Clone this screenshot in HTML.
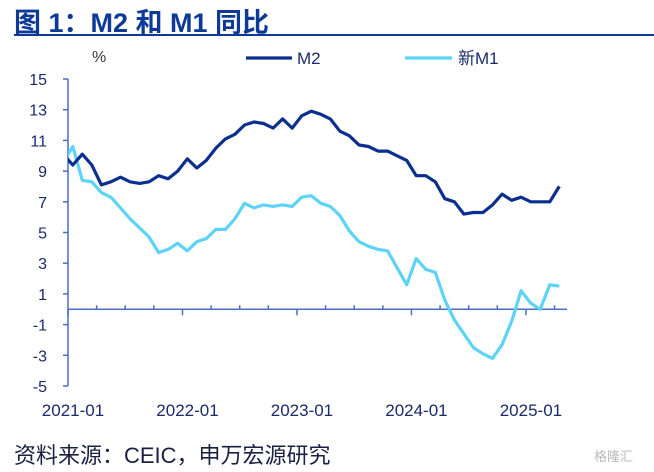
<!DOCTYPE html>
<html><head><meta charset="utf-8"><style>
html,body{margin:0;padding:0;background:#fff;}
body{width:654px;height:472px;overflow:hidden;position:relative;font-family:"Liberation Sans","Noto Sans CJK SC",sans-serif;}
</style></head><body>
<div style="position:absolute;left:14px;top:1px;font-size:27px;font-weight:bold;color:#0c3a96;letter-spacing:0px;white-space:nowrap;">图 1：M2 和 M1 同比</div>
<div style="position:absolute;left:14px;top:34px;width:640px;height:2px;background:#0c3a96;"></div>
<svg id="c" width="654" height="472" style="position:absolute;left:0;top:0"></svg>
<div style="position:absolute;left:14px;top:438px;font-size:22px;color:#1a2040;white-space:nowrap;">资料来源：CEIC，申万宏源研究</div>
<div style="position:absolute;left:594px;top:446px;font-size:13px;color:#bbb;">格隆汇</div>
<script>
const months = [];
for (let i = 0; i < 53; i++) { const y = 2020 + Math.floor((i + 11) / 12); const m = (i + 11) % 12 + 1; months.push(y + '-' + String(m).padStart(2, '0')); }
const m2Values = [10.1,9.4,10.1,9.4,8.1,8.3,8.6,8.3,8.2,8.3,8.7,8.5,9.0,9.8,9.2,9.7,10.5,11.1,11.4,12.0,12.2,12.1,11.8,12.4,11.8,12.6,12.9,12.7,12.4,11.6,11.3,10.7,10.6,10.3,10.3,10.0,9.7,8.7,8.7,8.3,7.2,7.0,6.2,6.3,6.3,6.8,7.5,7.1,7.3,7.0,7.0,7.0,8.0];
const m1Values = [9.6,10.6,8.4,8.3,7.6,7.3,6.6,5.9,5.3,4.7,3.7,3.9,4.3,3.8,4.4,4.6,5.2,5.2,5.9,6.9,6.6,6.8,6.7,6.8,6.7,7.3,7.4,6.9,6.7,6.1,5.1,4.4,4.1,3.9,3.8,2.7,1.6,3.3,2.6,2.4,0.6,-0.7,-1.6,-2.5,-2.9,-3.2,-2.3,-0.8,1.2,0.4,0.0,1.6,1.5];
const yTicks = [15,13,11,9,7,5,3,1,-1,-3,-5];
const xLabels = ['2021-01','2022-01','2023-01','2024-01','2025-01'];

const NS = 'http://www.w3.org/2000/svg';
const svg = document.getElementById('c');
const X0 = 68, MW = 9.54;
const x = i => X0 + (i - 0.5) * MW;
const y = v => 79 + (15 - v) * 15.35;
function el(t, a, p) { const e = document.createElementNS(NS, t); for (const k in a) e.setAttribute(k, a[k]); (p || svg).appendChild(e); return e; }
const AX = '#4a6fc4';
const defs = el('defs', {});
const cp = el('clipPath', { id: 'clip' }, defs);
el('rect', { x: X0, y: 60, width: 520, height: 340 }, cp);

const ya = el('line', { x1: X0, y1: y(15), x2: X0, y2: y(-5), stroke: AX, 'stroke-width': 1.5 });


yTicks.forEach(v => {
  el('line', { x1: X0 - 5, y1: y(v), x2: X0, y2: y(v), stroke: AX, 'stroke-width': 1.5 });
  const t = el('text', { x: 47, y: y(v) + 6, 'text-anchor': 'end', 'font-size': 16, fill: '#1a2a6a' });
  t.textContent = v;
  
  
});
const pct = el('text', { x: 92, y: 62, 'font-size': 16, fill: '#333' });
pct.textContent = '%';



const xa = el('line', { x1: X0, y1: y(0), x2: 567, y2: y(0), stroke: AX, 'stroke-width': 1.5 });


for (let k = 0; k <= 17; k++) {
  const xx = X0 + k * 3 * MW;
  if (xx > 568) break;
  const major = k % 4 === 0;
  el('line', { x1: xx, y1: y(0) - (major ? 0 : 4), x2: xx, y2: y(0) + (major ? 6 : 0), stroke: AX, 'stroke-width': 1.5 });
}
xLabels.forEach((lab, k) => {
  const t = el('text', { x: X0 + k * 12 * MW + 5, y: 416, 'text-anchor': 'middle', 'font-size': 17, fill: '#1a2a6a' });
  t.textContent = lab;
  
  
});

function line(vals, color, name) {
  const d = vals.map((v, i) => (i ? 'L' : 'M') + x(i).toFixed(1) + ',' + y(v).toFixed(1)).join('');
  const p = el('path', { d, fill: 'none', stroke: color, 'stroke-width': 3.2, 'stroke-linejoin': 'round', 'clip-path': 'url(#clip)' });
  
  
}
line(m1Values, '#5dd3f8', 'series-new-m1');
line(m2Values, '#0a2f8f', 'series-m2');

const l1 = el('line', { x1: 246, y1: 58, x2: 292, y2: 58, stroke: '#0a2f8f', 'stroke-width': 3.2 });


const t1 = el('text', { x: 297, y: 64, 'font-size': 17, fill: '#1a2a6a' });
t1.textContent = 'M2';


const l2 = el('line', { x1: 405, y1: 58, x2: 452, y2: 58, stroke: '#5dd3f8', 'stroke-width': 3.2 });


const t2 = el('text', { x: 458, y: 64, 'font-size': 17, fill: '#1a2a6a' });
t2.textContent = '新M1';


</script>
</body></html>
